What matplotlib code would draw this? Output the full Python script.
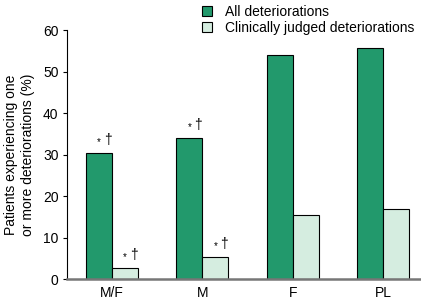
import numpy as np
import matplotlib.pyplot as plt
from matplotlib.patches import Patch

plt.rcParams['font.family'] = ['Liberation Sans', 'DejaVu Sans']

groups = ['M/F', 'M', 'F', 'PL']
all_det = [30.4, 34.0, 54.0, 55.7]
clin_det = [2.6, 5.3, 15.4, 16.9]
all_marks = ['* †', '* †', '', '']
clin_marks = ['* †', '* †', '', '']
yticks = [0, 10, 20, 30, 40, 50, 60]

dark = '#22996c'
light = '#d5ede0'

fig = plt.figure(figsize=(4.21, 3.01), dpi=100)
ax = fig.add_axes([0.159, 0.073, 0.841, 0.827])

x = np.arange(len(groups))
w = 0.288
ax.bar(x - w / 2, all_det, w, color=dark, edgecolor='black', linewidth=0.8)
ax.bar(x + w / 2, clin_det, w, color=light, edgecolor='black', linewidth=0.8)

for xi, v, m in zip(x - w / 2, all_det, all_marks):
    if m:
        ax.text(xi + 0.02, v + 1.5, '*', ha='right', va='bottom', fontsize=7)
        ax.text(xi + 0.05, v + 1.5, '†', ha='left', va='bottom', fontsize=10)
for xi, v, m in zip(x + w / 2, clin_det, clin_marks):
    if m:
        ax.text(xi + 0.02, v + 1.5, '*', ha='right', va='bottom', fontsize=7)
        ax.text(xi + 0.05, v + 1.5, '†', ha='left', va='bottom', fontsize=10)

ax.set_xlim(-0.5, 3.42)
ax.set_ylim(0, 60)
ax.set_yticks(yticks)
ax.set_xticks(x)
ax.set_xticklabels(groups, fontsize=10)
ax.tick_params(axis='x', length=0, pad=5)
ax.tick_params(axis='y', length=3, width=0.8, labelsize=10, pad=3)
for s in ['top', 'right']:
    ax.spines[s].set_visible(False)
ax.spines['left'].set_linewidth(0.8)
ax.spines['bottom'].set_color('#777777')
ax.spines['bottom'].set_linewidth(1.8)

ax.set_ylabel('Patients experiencing one\nor more deteriorations (%)', fontsize=10, labelpad=6)

handles = [Patch(facecolor=dark, edgecolor='black', linewidth=0.8),
           Patch(facecolor=light, edgecolor='black', linewidth=0.8)]
fig.legend(handles, ['All deteriorations', 'Clinically judged deteriorations'],
           loc='upper left', bbox_to_anchor=(0.45, 1.025), frameon=False, fontsize=10,
           handlelength=0.75, handleheight=0.75, handletextpad=0.9, labelspacing=0.15)

fig.savefig('out.png', dpi=100)
